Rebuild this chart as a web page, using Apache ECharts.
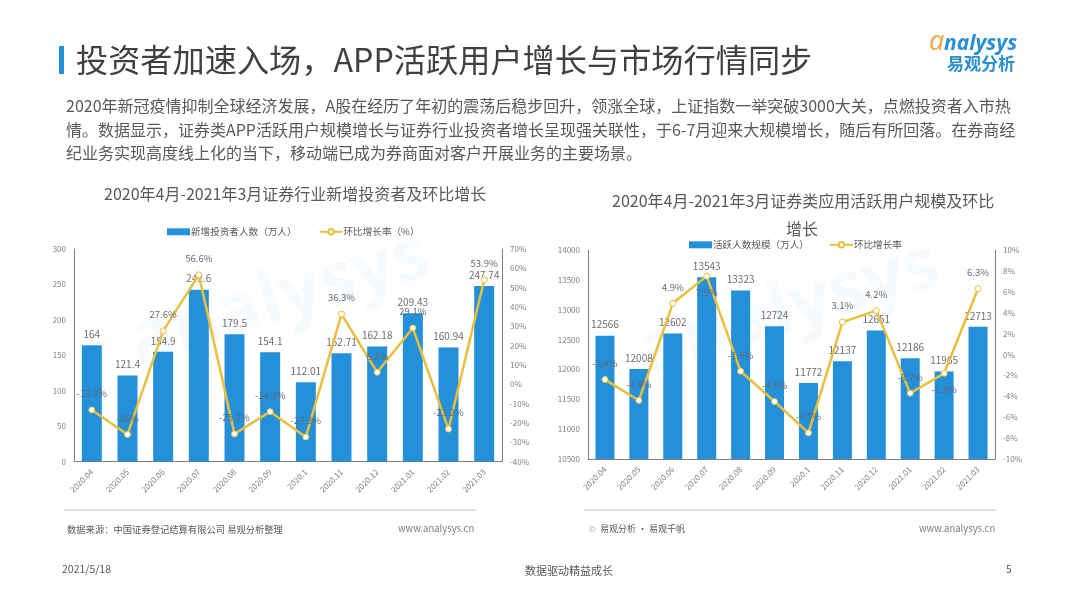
<!DOCTYPE html>
<html>
<head>
<meta charset="utf-8">
<script src="https://cdn.jsdelivr.net/npm/echarts@6/dist/echarts.min.js"></script>
<style>
html, body { margin: 0; padding: 0; background: #fff; }
#main { width: 1080px; height: 608px; }
</style>
</head>
<body>
<div id="main"></div>
<script>
var months = ['2020.04', '2020.05', '2020.06', '2020.07', '2020.08', '2020.09', '2020.1', '2020.11', '2020.12', '2021.01', '2021.02', '2021.03'];

var newInvestors = [164, 121.4, 154.9, 242.6, 179.5, 154.1, 112.01, 152.71, 162.18, 209.43, 160.94, 247.74];
var investorRate = [-13.3, -26.0, 27.6, 56.6, -25.7, -14.2, -27.3, 36.3, 6.2, 29.1, -23.2, 53.9];

var activeUsers = [12566, 12008, 12602, 13543, 13323, 12724, 11772, 12137, 12651, 12186, 11965, 12713];
var activeRate = [-2.4, -4.4, 4.9, 7.5, -1.6, -4.5, -7.5, 3.1, 4.2, -3.7, -1.8, 6.3];
var activeRateBelow = ['2020.07', '2021.02'];

var paragraph = [
    '2020年新冠疫情抑制全球经济发展，A股在经历了年初的震荡后稳步回升，领涨全球，上证指数一举突破3000大关，点燃投资者入市热',
    '情。数据显示，证券类APP活跃用户规模增长与证券行业投资者增长呈现强关联性，于6-7月迎来大规模增长，随后有所回落。在券商经',
    '纪业务实现高度线上化的当下，移动端已成为券商面对客户开展业务的主要场景。'
];

var FONT = '"Noto Sans CJK SC", "Noto Sans", sans-serif';
var BLUE = '#2490d9';
var YELLOW = '#e9bf3e';
var GREY = '#7f7f7f';

function txt(x, y, text, size, color, extra) {
    var style = { x: x, y: y, text: text, fontSize: size, fill: color, fontFamily: FONT, textVerticalAlign: 'middle' };
    for (var k in extra) style[k] = extra[k];
    return { type: 'text', style: style, silent: true };
}

function rule(x1, x2, y) {
    return { type: 'line', shape: { x1: x1, y1: y, x2: x2, y2: y }, style: { stroke: '#c4c4c4', lineWidth: 1 }, silent: true };
}

function watermark(x, y) {
    return {
        type: 'text', x: x, y: y, rotation: 0.3, z: -1, silent: true,
        style: { text: 'analysys', fontSize: 72, fontWeight: 'bold', fontFamily: 'Open Sans', fill: 'rgba(205,225,235,0.16)', textAlign: 'center', textVerticalAlign: 'middle' }
    };
}

function pct(v) { return v + '%'; }

function barSeries(name, values, xi, yi) {
    return {
        name: name, type: 'bar', xAxisIndex: xi, yAxisIndex: yi, data: values, barWidth: '56%',
        itemStyle: { color: BLUE },
        label: { show: true, position: 'top', distance: 6, fontSize: 10, color: '#6e6e6e', fontFamily: FONT }
    };
}

function lineSeries(name, values, xi, yi, below) {
    return {
        name: name, type: 'line', xAxisIndex: xi, yAxisIndex: yi,
        data: values.map(function (v, i) {
            return below.indexOf(months[i]) >= 0 ? { value: v, label: { position: 'bottom' } } : v;
        }),
        symbol: 'circle', symbolSize: 6,
        lineStyle: { color: YELLOW, width: 2.5 },
        itemStyle: { color: '#fff', borderColor: YELLOW, borderWidth: 1 },
        label: { show: true, position: 'top', distance: 8, fontSize: 9.5, color: '#5f6b75', fontFamily: FONT, formatter: function (p) { return pct(p.value); } },
        z: 3
    };
}

function xAxis(gi) {
    return {
        type: 'category', gridIndex: gi, data: months,
        axisTick: { show: false },
        axisLine: { onZero: false, lineStyle: { color: GREY } },
        axisLabel: { interval: 0, rotate: 45, fontSize: 8, color: GREY, margin: 9, fontFamily: FONT }
    };
}

function yAxis(gi, pos, min, max, interval, fmt) {
    return {
        type: 'value', gridIndex: gi, position: pos, min: min, max: max, interval: interval,
        splitLine: { show: false },
        axisTick: { show: false },
        axisLine: { show: true, lineStyle: { color: GREY } },
        axisLabel: { fontSize: 8, color: GREY, margin: 8, fontFamily: FONT, formatter: fmt }
    };
}

function legendOf(left, top, names, gap) {
    return {
        left: left, top: top, itemWidth: 23, itemHeight: 7, itemGap: gap,
        data: [{ name: names[0], icon: 'rect' }, { name: names[1] }],
        textStyle: { fontSize: 9.6, color: '#595959', fontFamily: FONT, padding: [0, 0, 0, -4] }
    };
}

var graphics = [
    { type: 'rect', shape: { x: 59, y: 46, width: 5, height: 28 }, style: { fill: BLUE }, silent: true },
    txt(76, 60, '投资者加速入场，APP活跃用户增长与市场行情同步', 32.2, '#404040'),
    txt(929, 42, 'a', 27, '#eea63f', { fontStyle: 'italic', fontFamily: 'Open Sans' }),
    txt(944, 44, 'nalysys', 21, '#2a8fd0', { fontStyle: 'italic', fontWeight: 'bold', fontFamily: 'Open Sans' }),
    txt(947, 64, '易观分析', 17, '#2a8fd0', { fontWeight: 'bold' }),
    txt(66, 106, paragraph[0], 16, '#595959'),
    txt(66, 130, paragraph[1], 16, '#595959'),
    txt(66, 153, paragraph[2], 16, '#595959'),
    txt(104, 194, '2020年4月-2021年3月证券行业新增投资者及环比增长', 16, '#595959'),
    txt(612, 201, '2020年4月-2021年3月证券类应用活跃用户规模及环比', 16, '#595959'),
    txt(786, 229, '增长', 16, '#595959'),
    watermark(280, 300),
    watermark(790, 310),
    rule(64, 476, 510),
    rule(584, 996, 510),
    txt(67, 529, '数据来源：中国证券登记结算有限公司 易观分析整理', 9.3, '#595959'),
    txt(398, 528, 'www.analysys.cn', 9.5, GREY),
    txt(589, 529, '©', 8, '#a6a6a6'),
    txt(600, 529, '易观分析 · 易观千帆', 9, '#595959'),
    txt(919, 528, 'www.analysys.cn', 9.5, GREY),
    txt(62, 569, '2021/5/18', 10.5, '#595959'),
    txt(525, 571, '数据驱动精益成长', 11, '#595959'),
    txt(1006, 569, '5', 10, '#595959')
];

var chart = echarts.init(document.getElementById('main'));
chart.setOption({
    animation: false,
    backgroundColor: '#fff',
    graphic: { elements: graphics },
    legend: [
        legendOf(162, 222, ['新增投资者人数（万人）', '环比增长率（%）'], 22),
        legendOf(684, 235, ['活跃人数规模（万人）', '环比增长率'], 20)
    ],
    grid: [
        { left: 74, right: 578, top: 249, height: 212.5 },
        { left: 588, right: 85, top: 250, height: 209 }
    ],
    xAxis: [xAxis(0), xAxis(1)],
    yAxis: [
        yAxis(0, 'left', 0, 300, 50),
        yAxis(0, 'right', -40, 70, 10, pct),
        yAxis(1, 'left', 10500, 14000, 500, function (v) { return String(v); }),
        yAxis(1, 'right', -10, 10, 2, pct)
    ],
    series: [
        barSeries('新增投资者人数（万人）', newInvestors, 0, 0),
        lineSeries('环比增长率（%）', investorRate, 0, 1, []),
        barSeries('活跃人数规模（万人）', activeUsers, 1, 2),
        lineSeries('环比增长率', activeRate, 1, 3, activeRateBelow)
    ]
});
</script>
</body>
</html>
